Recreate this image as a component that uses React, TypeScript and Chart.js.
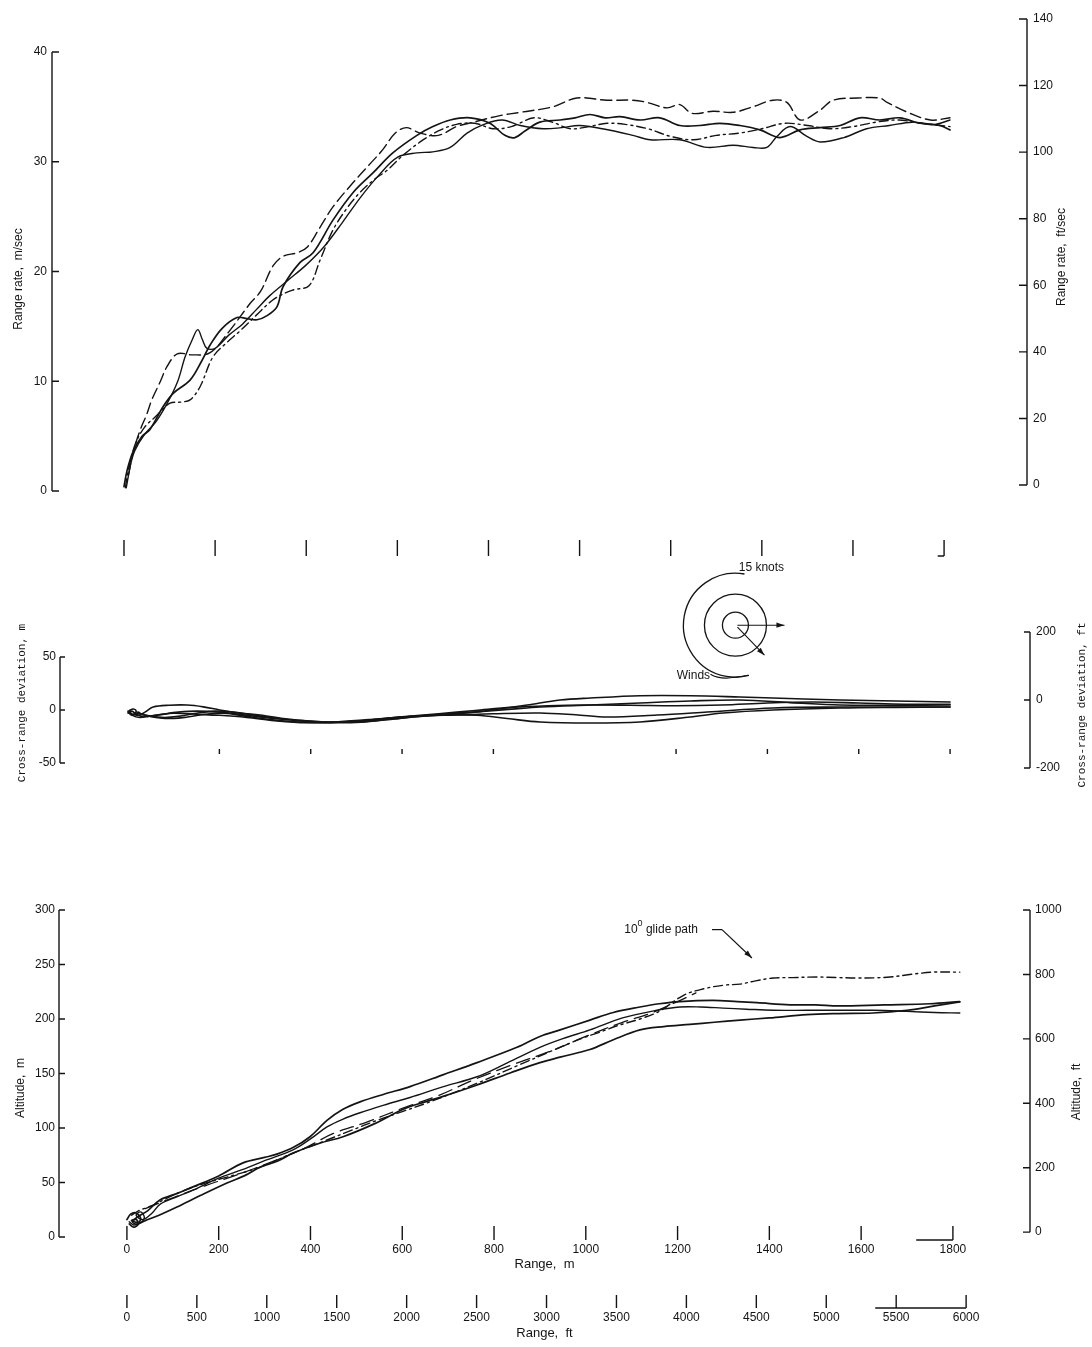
import React, { useEffect, useRef } from "react";
import { Chart, registerables } from "chart.js";

Chart.register(...registerables);

type Pt = [number, number];

// ---------------- tick values ----------------
const rangeTicksM = [0, 200, 400, 600, 800, 1000, 1200, 1400, 1600, 1800];
const rangeTicksFt = [0, 500, 1000, 1500, 2000, 2500, 3000, 3500, 4000, 4500, 5000, 5500, 6000];
const crossRowTicksM = [200, 400, 600, 800, 1200, 1400, 1600, 1800];
const rateTicksMs = [0, 10, 20, 30, 40];
const rateTicksFts = [0, 20, 40, 60, 80, 100, 120, 140];
const crossTicksM = [-50, 0, 50];
const crossTicksFt = [-200, 0, 200];
const altTicksM = [0, 50, 100, 150, 200, 250, 300];
const altTicksFt = [0, 200, 400, 600, 800, 1000];

// ---------------- axis ranges ----------------
const rateRangeX = [-158, 1982];
const rateRangeMs = [0, 43];
const rateRangeFts = [-1.8, 140];
const crossRangeX = [-149, 1975];
const crossRangeM = [-54.7, 73.6];
const crossRangeFt = [-200, 200];
const altRangeX = [-148, 1968];
const altRangeM = [0, 300];
const altRangeFt = [-15, 1000];
const FT_PER_M = 3.28084;

// ---------------- annotations (data coordinates) ----------------
const windRoseAt: Pt = [1330, 80];
const glideLabelAt: Pt = [1275, 282];
const glideArrowTip: Pt = [1362, 256];

// ---------------- range rate runs (range m, m/sec) ----------------
const rateRun1: Pt[] = [[0,0.4],[7,1.9],[20,3.6],[40,5.0],[57,5.6],[86,7.7],[108,8.9],[145,10.1],[170,11.8],[189,13.3],[215,14.8],[248,15.8],[270,15.7],[292,15.6],[315,16.0],[336,16.8],[349,18.6],[386,20.8],[415,21.7],[459,24.7],[503,27.2],[547,29.0],[590,30.8],[643,32.4],[678,33.2],[716,33.8],[760,34.0],[803,33.5],[836,32.4],[858,32.2],[880,32.8],[913,33.6],[957,33.8],[990,34.0],[1023,34.3],[1056,34.0],[1089,34.1],[1133,33.8],[1176,34.0],[1220,33.3],[1264,33.3],[1308,33.5],[1352,33.3],[1396,32.9],[1440,32.2],[1484,32.9],[1528,33.1],[1572,33.3],[1615,34.0],[1659,33.8],[1703,34.0],[1747,33.5],[1791,33.3],[1813,32.9]];
const rateRun2: Pt[] = [[5,0.3],[15,2.5],[24,3.7],[46,5.2],[70,6.3],[95,8.0],[118,10.0],[134,12.2],[150,13.8],[162,14.7],[172,13.8],[182,13.0],[200,13.0],[230,14.2],[260,15.2],[290,16.5],[320,17.8],[360,19.2],[400,20.6],[440,22.3],[480,24.5],[520,26.8],[560,28.8],[600,30.4],[643,30.8],[678,30.9],[716,31.3],[753,32.6],[790,33.4],[830,33.8],[870,33.3],[920,33.0],[960,33.1],[1000,33.3],[1050,33.0],[1117,32.4],[1155,32.0],[1220,32.0],[1280,31.3],[1337,31.5],[1381,31.3],[1411,31.3],[1433,32.3],[1462,33.2],[1499,32.3],[1528,31.8],[1580,32.2],[1630,33.0],[1680,33.3],[1730,33.6],[1780,33.4],[1813,33.8]];
const rateRun3: Pt[] = [[10,1.5],[20,3.5],[35,5.5],[50,7.0],[61,8.3],[80,10.0],[94,11.3],[117,12.5],[150,12.4],[189,12.6],[230,14.5],[277,17.1],[300,18.2],[327,20.5],[350,21.4],[380,21.7],[402,22.2],[430,24.0],[459,25.9],[503,28.1],[540,29.8],[568,31.1],[595,32.6],[620,33.1],[650,32.6],[690,32.4],[730,33.2],[767,33.6],[825,34.2],[870,34.5],[941,35.0],[994,35.8],[1060,35.6],[1117,35.6],[1148,35.4],[1192,34.9],[1220,35.2],[1247,34.4],[1293,34.6],[1337,34.5],[1380,35.0],[1424,35.6],[1455,35.4],[1484,33.8],[1528,34.7],[1556,35.6],[1610,35.8],[1659,35.8],[1675,35.4],[1720,34.5],[1770,33.8],[1813,34.0]];
const rateRun4: Pt[] = [[3,0.3],[10,2.0],[25,4.3],[45,5.8],[70,6.8],[101,8.0],[125,8.1],[145,8.3],[167,9.5],[195,12.2],[225,13.5],[255,14.6],[290,16.0],[330,17.5],[370,18.3],[406,18.7],[430,21.0],[459,23.8],[490,25.8],[518,27.2],[550,28.4],[577,29.2],[610,30.5],[650,31.8],[690,32.8],[730,33.4],[770,33.5],[810,33.0],[850,33.2],[900,34.0],[940,33.6],[980,33.0],[1020,33.2],[1060,33.5],[1100,33.4],[1150,33.0],[1200,32.3],[1250,32.0],[1300,32.4],[1350,32.6],[1400,33.0],[1450,33.5],[1500,33.3],[1550,33.0],[1600,33.2],[1650,33.6],[1700,33.8],[1750,33.5],[1813,33.2]];

// ---------------- cross-range runs (range m, deviation m) ----------------
const crossRun1: Pt[] = [[0,-2],[5,0],[12,1],[18,-1],[14,-4],[24,-5],[37,-2],[55,2.8],[90,4.5],[129,4.7],[165,3],[201,0],[245,-3],[289,-4.7],[340,-8],[398,-10.5],[450,-11.5],[508,-11.3],[580,-8.5],[640,-6],[690,-4.7],[764,-1.9],[820,1.5],[874,4.7],[946,9.4],[1012,11.3],[1121,13.5],[1231,13.5],[1340,12.3],[1412,11.3],[1480,10.4],[1559,9.4],[1680,8.5],[1800,7.5]];
const crossRun2: Pt[] = [[2,-3],[8,-5],[16,-4],[22,-2],[30,-4],[50,-6],[80,-7],[110,-6],[150,-3],[190,-1],[230,-2],[280,-5],[330,-8],[390,-11],[450,-12],[510,-11.5],[570,-9],[630,-6],[700,-3.5],[770,-1.5],[840,0.8],[902,2.8],[1012,4.7],[1121,6.6],[1231,8.5],[1340,9.4],[1450,7],[1559,4.7],[1680,4.5],[1800,4.7]];
const crossRun3: Pt[] = [[0,-1],[6,-3],[14,-6],[26,-7],[45,-6],[75,-4],[110,-2],[150,-1],[201,-2],[260,-5],[320,-8],[380,-10],[440,-11.5],[508,-10.5],[580,-7.5],[650,-5.5],[720,-4.7],[800,-3.5],[902,-2.8],[980,-4.5],[1049,-6.6],[1158,-4.7],[1268,-1.9],[1412,1.9],[1559,2.8],[1680,2.8],[1800,2.8]];
const crossRun4: Pt[] = [[3,-2],[10,-4],[20,-3],[40,-5],[70,-7.5],[100,-8],[130,-6.6],[170,-4],[210,-3],[260,-6],[310,-9],[370,-11.3],[430,-12],[500,-10.5],[560,-8],[620,-6],[690,-4.5],[764,-5],[830,-8],[902,-11.3],[1012,-12.3],[1121,-11.3],[1231,-6.6],[1303,-2.8],[1412,0],[1559,1.9],[1680,2.5],[1800,2.8]];
const crossRun5: Pt[] = [[0,-3],[8,-1],[15,-3],[30,-6],[60,-5],[100,-3],[150,-4],[200,-5],[260,-7],[320,-10],[390,-12],[460,-11],[530,-9],[600,-6.5],[680,-3.5],[760,-0.5],[840,2.5],[920,4],[1000,4.7],[1100,4.5],[1200,4],[1300,4.7],[1400,6.6],[1500,7.5],[1600,6.6],[1700,5.5],[1800,5.5]];

// ---------------- altitude runs (range m, altitude m) ----------------
const altRun1: Pt[] = [[0,16],[8,21],[20,22],[30,17],[22,12],[12,14],[25,19],[45,24],[72,34],[110,40],[144,46],[200,56],[253,68],[300,73],[327,76],[362,82],[399,92],[436,107],[470,117],[508,124],[560,131],[617,138],[690,149],[763,160],[850,174],[900,184],[944,190],[1009,199],[1060,206],[1118,211],[1160,214],[1205,216],[1277,217],[1330,216],[1373,215],[1445,213],[1500,213],[1550,212],[1650,213],[1750,214],[1815,216]];
const altRun2: Pt[] = [[5,14],[15,11],[30,13],[38,18],[30,23],[20,20],[35,16],[55,22],[72,30],[110,37],[144,43],[200,54],[253,62],[300,70],[362,80],[400,90],[436,101],[470,108],[508,114],[560,121],[617,128],[690,138],[763,147],[830,160],[900,174],[950,182],[1009,190],[1080,201],[1155,208],[1205,211],[1250,211],[1299,210],[1350,209],[1408,208],[1482,208],[1550,208],[1626,208],[1700,207],[1760,206],[1815,205.5]];
const altRun3: Pt[] = [[10,20],[25,24],[50,28],[80,34],[109,40],[160,48],[218,55],[290,64],[362,77],[436,89],[490,98],[545,107],[600,115],[654,123],[710,132],[763,141],[850,157],[944,174],[990,182],[1031,188],[1070,194],[1118,200],[1160,207],[1214,222],[1260,228],[1300,231],[1336,232],[1370,235],[1408,237.6],[1450,238],[1504,238.5],[1550,238],[1591,237.6],[1630,237.8],[1663,238.5],[1710,241],[1756,243],[1815,243]];
const altRun4: Pt[] = [[5,12],[15,9],[25,12],[20,16],[10,15],[28,13],[40,15],[70,20],[109,27.5],[160,38],[218,49.5],[260,57],[290,64],[330,70],[362,77],[420,86],[471,92],[540,104],[601,117],[650,124],[689,129],[760,139],[835,150.5],[900,160],[944,165],[1009,172],[1060,181],[1118,190],[1170,193],[1227,195],[1280,197],[1336,199],[1400,201],[1482,204],[1550,205],[1626,205.5],[1700,208],[1760,212],[1815,215.6]];
const altRun5: Pt[] = [[40,26],[100,36],[170,47],[240,57],[310,68],[380,80],[450,95],[520,105],[600,118],[680,130],[760,145],[840,158],[920,170],[1000,184],[1080,197],[1140,205],[1200,216],[1240,224]];

// ---------------- styling ----------------
const INK = "#141414";
const SANS = "'Liberation Sans', Arial, sans-serif";
const MONO = "'Liberation Mono', 'DejaVu Sans Mono', monospace";
const RAD = Math.PI / 180;

const runStyles = [
  { w: 1.7, dash: [] as number[] },
  { w: 1.4, dash: [] as number[] },
  { w: 1.4, dash: [11, 5] },
  { w: 1.4, dash: [9, 4, 2, 4] },
  { w: 1.3, dash: [14, 7] },
];

function runDataset(points: Pt[], k: number, width?: number) {
  const s = runStyles[k];
  return {
    data: points.map(([x, y]) => ({ x, y })),
    showLine: true,
    borderColor: INK,
    backgroundColor: INK,
    borderWidth: width ?? s.w,
    borderDash: s.dash,
    borderCapStyle: "round",
    borderJoinStyle: "round",
    pointRadius: 0,
    pointHoverRadius: 0,
    tension: 0.35,
    fill: false,
  };
}

function yScale(position: string, range: number[], ticks: number[], width: number, size: number, padding: number) {
  return {
    type: "linear",
    position,
    min: range[0],
    max: range[1],
    bounds: "data",
    afterBuildTicks: (s: any) => { s.ticks = ticks.map((v) => ({ value: v })); },
    afterFit: (s: any) => { s.width = width; },
    grid: { display: false, drawTicks: false },
    border: { display: false },
    ticks: { color: INK, padding, autoSkip: false, font: { family: SANS, size }, callback: (v: any) => String(v) },
  };
}

function hiddenX(range: number[]) {
  return { type: "linear", display: false, min: range[0], max: range[1], bounds: "data" };
}

function shownX(range: number[], ticks: number[], weight: number, height: number, pad: number, title: string) {
  return {
    type: "linear",
    position: "bottom",
    axis: "x",
    min: range[0],
    max: range[1],
    bounds: "data",
    weight,
    afterBuildTicks: (s: any) => { s.ticks = ticks.map((v) => ({ value: v })); },
    afterFit: (s: any) => { s.height = height; },
    grid: { display: false, drawTicks: false },
    border: { display: false },
    ticks: { color: INK, padding: pad, autoSkip: false, maxRotation: 0, minRotation: 0, font: { family: SANS, size: 12 }, callback: (v: any) => String(v) },
    title: { display: true, text: title, color: INK, font: { family: SANS, size: 13 }, padding: { top: 0, bottom: 0 } },
  };
}

type AxisDeco = { id: string; side: "left" | "right"; ticks: number[]; len: number };
type RowDeco = { id: string; ticks: number[]; y1: number; y2: number; hook?: number[] };
type TitleDeco = { text: string; x: number; y: number; font: string };
type DecorCfg = { axes: AxisDeco[]; rows: RowDeco[]; titles: TitleDeco[]; extra?: (chart: any, ctx: CanvasRenderingContext2D) => void };

function arrow(ctx: CanvasRenderingContext2D, x0: number, y0: number, x1: number, y1: number) {
  const a = Math.atan2(y1 - y0, x1 - x0);
  ctx.beginPath();
  ctx.moveTo(x0, y0);
  ctx.lineTo(x1, y1);
  ctx.stroke();
  ctx.beginPath();
  ctx.moveTo(x1, y1);
  ctx.lineTo(x1 - 8 * Math.cos(a) + 2.6 * Math.sin(a), y1 - 8 * Math.sin(a) - 2.6 * Math.cos(a));
  ctx.lineTo(x1 - 8 * Math.cos(a) - 2.6 * Math.sin(a), y1 - 8 * Math.sin(a) + 2.6 * Math.cos(a));
  ctx.closePath();
  ctx.fill();
}

function decorPlugin(cfg: DecorCfg) {
  return {
    id: "decor",
    afterDraw(chart: any) {
      const ctx: CanvasRenderingContext2D = chart.ctx;
      const area = chart.chartArea;
      ctx.save();
      ctx.strokeStyle = INK;
      ctx.fillStyle = INK;
      ctx.lineWidth = 1.4;
      ctx.setLineDash([]);
      for (const a of cfg.axes) {
        const s = chart.scales[a.id];
        const x = a.side === "left" ? area.left : area.right;
        const dir = a.side === "left" ? 1 : -1;
        const ys = a.ticks.map((v) => s.getPixelForValue(v));
        ctx.beginPath();
        ctx.moveTo(x, Math.min(...ys));
        ctx.lineTo(x, Math.max(...ys));
        for (const y of ys) {
          ctx.moveTo(x, y);
          ctx.lineTo(x + dir * a.len, y);
        }
        ctx.stroke();
      }
      for (const r of cfg.rows) {
        const s = chart.scales[r.id];
        ctx.beginPath();
        for (const v of r.ticks) {
          const x = s.getPixelForValue(v);
          ctx.moveTo(x, r.y1);
          ctx.lineTo(x, r.y2);
        }
        if (r.hook) {
          ctx.moveTo(s.getPixelForValue(r.hook[0]), r.y2);
          ctx.lineTo(s.getPixelForValue(r.hook[1]), r.y2);
        }
        ctx.stroke();
      }
      for (const t of cfg.titles) {
        ctx.save();
        ctx.translate(t.x, t.y);
        ctx.rotate(-Math.PI / 2);
        ctx.font = t.font;
        ctx.textAlign = "center";
        ctx.textBaseline = "middle";
        ctx.fillText(t.text, 0, 0);
        ctx.restore();
      }
      if (cfg.extra) cfg.extra(chart, ctx);
      ctx.restore();
    },
  };
}

function baseOptions(padTop: number, padBottom: number, scales: any) {
  return {
    responsive: false,
    maintainAspectRatio: false,
    animation: false,
    devicePixelRatio: 1,
    events: [],
    layout: { padding: { top: padTop, bottom: padBottom, left: 0, right: 0 } },
    plugins: { legend: { display: false }, tooltip: { enabled: false } },
    scales,
  };
}

// ---------------- panel configs ----------------
function rateConfig() {
  return {
    type: "scatter",
    data: { datasets: [rateRun1, rateRun2, rateRun3, rateRun4].map((r, i) => runDataset(r, i)) },
    options: baseOptions(19, 89, {
      x: hiddenX(rateRangeX),
      y: yScale("left", rateRangeMs, rateTicksMs, 52, 12, 5),
      y2: yScale("right", rateRangeFts, rateTicksFts, 65, 12, 6),
    }),
    plugins: [
      decorPlugin({
        axes: [
          { id: "y", side: "left", ticks: rateTicksMs, len: 7 },
          { id: "y2", side: "right", ticks: rateTicksFts, len: 8 },
        ],
        rows: [{ id: "x", ticks: rangeTicksM, y1: 540, y2: 556, hook: [1786, 1800] }],
        titles: [
          { text: "Range rate,  m/sec", x: 19, y: 279, font: `12px ${SANS}` },
          { text: "Range rate,  ft/sec", x: 1062, y: 257, font: `12px ${SANS}` },
        ],
      }),
    ],
  };
}

function crossConfig() {
  const runs = [crossRun1, crossRun2, crossRun3, crossRun4, crossRun5];
  return {
    type: "scatter",
    data: { datasets: runs.map((r) => runDataset(r, 1, 1.6)) },
    options: baseOptions(72, 22, {
      x: hiddenX(crossRangeX),
      y: yScale("left", crossRangeM, crossTicksM, 60, 12, 4),
      y2: yScale("right", crossRangeFt, crossTicksFt, 62, 12, 6),
    }),
    plugins: [
      decorPlugin({
        axes: [
          { id: "y", side: "left", ticks: crossTicksM, len: 5 },
          { id: "y2", side: "right", ticks: crossTicksFt, len: 6 },
        ],
        rows: [{ id: "x", ticks: crossRowTicksM, y1: 189, y2: 194 }],
        titles: [
          { text: "Cross-range deviation, m", x: 22, y: 143, font: `11px ${MONO}` },
          { text: "Cross-range deviation, ft", x: 1082, y: 145, font: `11px ${MONO}` },
        ],
        extra: (chart, ctx) => {
          const cx = chart.scales.x.getPixelForValue(windRoseAt[0]);
          const cy = chart.scales.y.getPixelForValue(windRoseAt[1]);
          ctx.lineWidth = 1.3;
          for (const r of [13, 31]) {
            ctx.beginPath();
            ctx.arc(cx, cy, r, 0, Math.PI * 2);
            ctx.stroke();
          }
          ctx.beginPath();
          ctx.arc(cx, cy, 52, -80 * RAD, 75 * RAD, true);
          ctx.stroke();
          ctx.lineWidth = 1.1;
          arrow(ctx, cx + 2, cy, cx + 49, cy);
          arrow(ctx, cx + 2, cy + 2, cx + 29, cy + 30);
          ctx.font = `12px ${SANS}`;
          ctx.textAlign = "center";
          ctx.textBaseline = "middle";
          ctx.fillText("15 knots", cx + 26, cy - 58);
          ctx.fillText("Winds", cx - 42, cy + 50);
          ctx.beginPath();
          ctx.moveTo(cx - 25, cy + 49);
          ctx.bezierCurveTo(cx - 15, cy + 55, cx - 4, cy + 53, cx + 13, cy + 50);
          ctx.stroke();
        },
      }),
    ],
  };
}

function altConfig() {
  return {
    type: "scatter",
    data: {
      datasets: [
        runDataset(altRun1, 0),
        runDataset(altRun2, 1),
        runDataset(altRun3, 3),
        runDataset(altRun4, 0),
        runDataset(altRun5, 4),
      ],
    },
    options: baseOptions(20, 6, {
      x: shownX(altRangeX, rangeTicksM, 0, 35, 5, "Range,  m"),
      xft: shownX([altRangeX[0] * FT_PER_M, altRangeX[1] * FT_PER_M], rangeTicksFt, 1, 69, 38, "Range,  ft"),
      y: yScale("left", altRangeM, altTicksM, 59, 12, 4),
      y2: yScale("right", altRangeFt, altTicksFt, 62, 12, 5),
    }),
    plugins: [
      decorPlugin({
        axes: [
          { id: "y", side: "left", ticks: altTicksM, len: 6 },
          { id: "y2", side: "right", ticks: altTicksFt, len: 7 },
        ],
        rows: [
          { id: "x", ticks: rangeTicksM, y1: 336, y2: 350, hook: [1720, 1800] },
          { id: "xft", ticks: rangeTicksFt, y1: 405, y2: 418, hook: [5350, 6000] },
        ],
        titles: [
          { text: "Altitude,  m", x: 21, y: 198, font: `12px ${SANS}` },
          { text: "Altitude,  ft", x: 1077, y: 202, font: `12px ${SANS}` },
        ],
        extra: (chart, ctx) => {
          const xs = chart.scales.x;
          const ys = chart.scales.y;
          const lx = xs.getPixelForValue(glideLabelAt[0]);
          const ly = ys.getPixelForValue(glideLabelAt[1]);
          const tx = xs.getPixelForValue(glideArrowTip[0]);
          const ty = ys.getPixelForValue(glideArrowTip[1]);
          ctx.lineWidth = 1.2;
          ctx.beginPath();
          ctx.moveTo(lx, ly);
          ctx.lineTo(lx + 10, ly);
          ctx.stroke();
          arrow(ctx, lx + 10, ly, tx, ty);
          ctx.textBaseline = "middle";
          ctx.textAlign = "left";
          const big = `12px ${SANS}`;
          const small = `9px ${SANS}`;
          ctx.font = big;
          const w1 = ctx.measureText("10").width;
          const w3 = ctx.measureText(" glide path").width;
          ctx.font = small;
          const w2 = ctx.measureText("0").width;
          let x0 = lx - 14 - (w1 + w2 + w3);
          ctx.font = big;
          ctx.fillText("10", x0, ly);
          x0 += w1;
          ctx.font = small;
          ctx.fillText("0", x0, ly - 6);
          x0 += w2;
          ctx.font = big;
          ctx.fillText(" glide path", x0, ly);
        },
      }),
    ],
  };
}

function Panel({ top, height, build }: { top: number; height: number; build: () => any }) {
  const ref = useRef<HTMLCanvasElement>(null);
  useEffect(() => {
    const chart = new Chart(ref.current as HTMLCanvasElement, build());
    return () => chart.destroy();
  }, []);
  return (
    <canvas
      ref={ref}
      width={1092}
      height={height}
      style={{ position: "absolute", left: 0, top, width: 1092, height, display: "block" }}
    />
  );
}

export default function App() {
  useEffect(() => {
    document.body.style.margin = "0";
    document.body.style.background = "#ffffff";
  }, []);
  return (
    <div style={{ position: "relative", width: 1092, height: 1347, background: "#ffffff", overflow: "hidden" }}>
      <Panel top={0} height={580} build={rateConfig} />
      <Panel top={560} height={230} build={crossConfig} />
      <Panel top={890} height={457} build={altConfig} />
    </div>
  );
}
